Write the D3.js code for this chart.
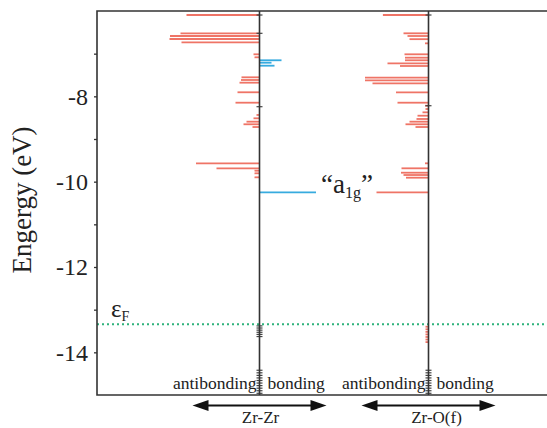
<!DOCTYPE html>
<html>
<head>
<meta charset="utf-8">
<script src="https://cdn.jsdelivr.net/npm/d3@7"></script>
<style>
  html, body { margin: 0; padding: 0; background: #fff; }
  svg { display: block; }
  text { font-family: "Liberation Serif", "DejaVu Serif", serif; fill: #222; }
</style>
</head>
<body>
<svg id="chart" width="547" height="428"></svg>
<script>
// ---- data (energy in eV, COOP magnitude in arbitrary units) ----
const panels = ["Zr-Zr", "Zr-O(f)"];
const yTicks = [-14, -13, -12, -11, -10, -9, -8, -7];
const fermiEnergy = -13.34;

// Zr-Zr antibonding levels: [energy, |COOP|]
const zrzrAnti = [
  [-6.094, 0.73], [-6.523, 0.79], [-6.586, 0.895], [-6.656, 0.90], [-6.734, 0.78],
  [-7.015, 0.06], [-7.085, 0.05],
  [-7.554, 0.18], [-7.617, 0.185], [-7.680, 0.20], [-7.905, 0.22], [-8.149, 0.24],
  [-8.437, 0.03], [-8.515, 0.06], [-8.594, 0.13], [-8.655, 0.16], [-8.719, 0.07],
  [-9.570, 0.635], [-9.687, 0.43], [-9.743, 0.05], [-9.804, 0.05], [-9.898, 0.05]
];
// Zr-Zr bonding levels
const zrzrBond = [
  [-7.155, 0.22], [-7.212, 0.12], [-7.282, 0.15], [-10.249, 0.565]
];
// Zr-O(f) antibonding levels
const zroAnti = [
  [-6.094, 0.456], [-6.523, 0.25], [-6.586, 0.21], [-6.660, 0.19], [-6.758, 0.035],
  [-7.015, 0.24], [-7.094, 0.235], [-7.155, 0.235], [-7.226, 0.41], [-7.289, 0.285],
  [-7.562, 0.635], [-7.625, 0.635], [-7.695, 0.56], [-7.906, 0.325], [-8.149, 0.31],
  [-8.220, 0.035], [-8.297, 0.03], [-8.375, 0.06], [-8.454, 0.11], [-8.531, 0.12],
  [-8.594, 0.19], [-8.655, 0.23], [-8.719, 0.13],
  [-9.570, 0.035], [-9.687, 0.27], [-9.790, 0.275], [-9.844, 0.25], [-9.907, 0.225],
  [-10.249, 0.52],
  [-13.40, 0.03], [-13.46, 0.03], [-13.52, 0.03], [-13.58, 0.03], [-13.64, 0.03], [-13.70, 0.03], [-13.76, 0.03]
];
// Zr-O(f) bonding levels
const zroBond = [];
// near-zero (nonbonding) levels drawn as tiny marks on each axis
const zrzrNonbond = [-6.094, -6.523, -8.243, -13.38, -13.43, -13.48, -13.53, -13.58, -13.63,
  -14.42, -14.48, -14.54, -14.60, -14.66, -14.72, -14.78, -14.84, -14.90, -14.96];
const zroNonbond = [-6.094, -8.22, -14.42, -14.48, -14.54, -14.60, -14.66, -14.72, -14.78, -14.84, -14.90, -14.96];

// ---- layout ----
const svg = d3.select("#chart");
const mLeft = 97, mTop = 11, mBottom = 395, mRight = 547;
const y = d3.scaleLinear().domain([-15, -6]).range([mBottom, mTop]);
const centers = [259.5, 428.5];
const xs = centers.map(c => d3.scaleLinear().domain([-1, 1]).range([c - 100, c + 100]));

const red = "#ee6656", blue = "#22a2dc", axisCol = "#333";

function drawBars(scale, data, sign, color) {
  svg.append("g").selectAll("line").data(data).join("line")
    .attr("x1", scale(0)).attr("x2", d => scale(sign * d[1]))
    .attr("y1", d => y(d[0])).attr("y2", d => y(d[0]))
    .attr("stroke", color).attr("stroke-width", 1.8).attr("opacity", 0.9);
}
drawBars(xs[0], zrzrAnti, -1, red);
drawBars(xs[0], zrzrBond, 1, blue);
drawBars(xs[1], zroAnti, -1, red);
drawBars(xs[1], zroBond, 1, blue);

function drawNon(scale, data) {
  svg.append("g").selectAll("line").data(data).join("line")
    .attr("x1", scale(-0.03)).attr("x2", scale(0.03))
    .attr("y1", d => y(d)).attr("y2", d => y(d))
    .attr("stroke", "#444").attr("stroke-width", 1.2);
}
drawNon(xs[0], zrzrNonbond);
drawNon(xs[1], zroNonbond);

// Fermi level
svg.append("line")
  .attr("x1", mLeft).attr("x2", mRight)
  .attr("y1", y(fermiEnergy)).attr("y2", y(fermiEnergy))
  .attr("stroke", "#2fb37c").attr("stroke-width", 2).attr("stroke-dasharray", "2,3");

// panel axes
centers.forEach(c => {
  svg.append("line").attr("x1", c).attr("x2", c).attr("y1", mTop).attr("y2", mBottom)
    .attr("stroke", axisCol).attr("stroke-width", 1.6);
});

// frame
svg.append("path")
  .attr("d", `M${mRight},${mTop}H${mLeft}V${mBottom}H${mRight}`)
  .attr("fill", "none").attr("stroke", axisCol).attr("stroke-width", 1.6);

// y axis
const yAxis = d3.axisLeft(y).tickValues(yTicks).tickSize(3).tickPadding(6)
  .tickFormat(d => (d % 2 === 0 ? String(d) : ""));
const gy = svg.append("g").attr("transform", `translate(${mLeft},0)`).call(yAxis);
gy.select(".domain").remove();
gy.selectAll(".tick line").attr("stroke", axisCol).attr("stroke-width", 1.3);
gy.selectAll(".tick text")
  .style("font-family", "'Liberation Serif', serif").style("font-size", "24px").attr("fill", "#222");

svg.append("text")
  .attr("transform", `translate(31,200) rotate(-90)`)
  .attr("text-anchor", "middle").style("font-size", "27px")
  .text("Engergy (eV)");

// epsilon F
const ef = svg.append("text").attr("x", 111).attr("y", 317).style("font-size", "25px");
ef.append("tspan").text("ε");
ef.append("tspan").attr("dy", 4).style("font-size", "14px").text("F");

// a1g label
const a = svg.append("text").attr("x", 321).attr("y", 193).style("font-size", "27px");
a.append("tspan").text("\u201Ca");
a.append("tspan").attr("dy", 5).style("font-size", "16px").text("1g");
a.append("tspan").attr("dy", -5).text("\u201D");

// bottom labels
centers.forEach((c, i) => {
  svg.append("text").attr("x", c - 3).attr("y", 389).attr("text-anchor", "end")
    .style("font-size", "17.5px").text("antibonding");
  svg.append("text").attr("x", c + 8).attr("y", 389).attr("text-anchor", "start")
    .style("font-size", "17.5px").text("bonding");
  // double arrow
  const x0 = c - 67, x1 = c + 67, ay = 405.5, hl = 16, hw = 5.5;
  svg.append("line").attr("x1", x0 + hl - 2).attr("x2", x1 - hl + 2).attr("y1", ay).attr("y2", ay)
    .attr("stroke", "#111").attr("stroke-width", 2);
  svg.append("path").attr("d", `M${x0},${ay}L${x0 + hl},${ay - hw}L${x0 + hl},${ay + hw}Z`).attr("fill", "#111");
  svg.append("path").attr("d", `M${x1},${ay}L${x1 - hl},${ay - hw}L${x1 - hl},${ay + hw}Z`).attr("fill", "#111");
  svg.append("text").attr("x", i === 0 ? c + 1 : c + 8).attr("y", 423).attr("text-anchor", "middle")
    .style("font-size", "17px").text(panels[i]);
});
</script>
</body>
</html>
